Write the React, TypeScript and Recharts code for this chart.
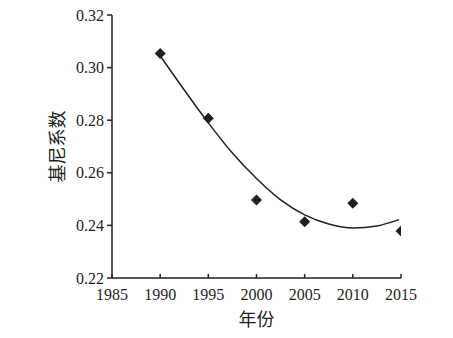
import { ComposedChart, Scatter, Line, XAxis, YAxis, Label } from 'recharts'

// observed Gini values
const years = [1990, 1995, 2000, 2005, 2010, 2015]
const gini = [0.3054, 0.2807, 0.2497, 0.2414, 0.2484, 0.2379]

// polynomial trend line
const trendYears = [1990, 1992.5, 1995, 1997.5, 2000, 2002.5, 2005, 2007.5, 2010, 2012.5, 2014.8]
const trendValues = [0.3045, 0.2915, 0.279, 0.2675, 0.2578, 0.2497, 0.244, 0.2405, 0.239, 0.2398, 0.2422]

const xTicks = [1985, 1990, 1995, 2000, 2005, 2010, 2015]
const yTicks = [0.22, 0.24, 0.26, 0.28, 0.3, 0.32]

const points = years.map((year, i) => ({ year, gini: gini[i] }))
const trend = trendYears.map((year, i) => ({ year, trend: trendValues[i] }))

const ink = '#231f20'
const serif = 'Liberation Serif'
const cjk = 'Noto Sans CJK SC'

const Diamond = (props: any) => {
  const { cx, cy } = props
  const r = 5.5
  return (
    <path
      d={`M${cx},${cy - r}L${cx + r},${cy}L${cx},${cy + r}L${cx - r},${cy}Z`}
      fill={ink}
    />
  )
}

const XTick = (props: any) => {
  const { x, y, payload } = props
  return (
    <text x={x} y={y} dy={11} textAnchor="middle" fill={ink} fontFamily={serif} fontSize={16}>
      {payload.value}
    </text>
  )
}

const YTick = (props: any) => {
  const { x, y, payload } = props
  return (
    <text x={x} y={y} dy={5.5} textAnchor="end" fill={ink} fontFamily={serif} fontSize={16}>
      {Number(payload.value).toFixed(2)}
    </text>
  )
}

export default function App() {
  return (
    <div style={{ position: 'absolute', left: 0, top: 0, background: 'white' }}>
      <ComposedChart width={453} height={338} margin={{ top: 15, right: 52, bottom: 0, left: 0 }}>
        <XAxis
          type="number"
          dataKey="year"
          domain={[1985, 2015]}
          ticks={xTicks}
          interval={0}
          allowDataOverflow
          height={60}
          stroke={ink}
          strokeWidth={1.5}
          tickSize={-4}
          tickMargin={15}
          tick={XTick}
        >
          <Label
            value="年份"
            position="insideBottom"
            offset={12}
            style={{ fill: ink, fontSize: 18, fontFamily: cjk }}
          />
        </XAxis>
        <YAxis
          type="number"
          domain={[0.22, 0.32]}
          ticks={yTicks}
          interval={0}
          allowDataOverflow
          width={112}
          stroke={ink}
          strokeWidth={1.5}
          tickSize={5}
          tickMargin={3}
          tick={YTick}
        >
          <Label
            value="基尼系数"
            angle={-90}
            position="insideLeft"
            offset={58}
            style={{ fill: ink, fontSize: 18, fontFamily: cjk, textAnchor: 'middle' }}
          />
        </YAxis>
        <Line
          data={trend}
          dataKey="trend"
          type="monotone"
          stroke={ink}
          strokeWidth={1.5}
          dot={false}
          activeDot={false}
          isAnimationActive={false}
        />
        <Scatter
          data={points}
          dataKey="gini"
          shape={Diamond}
          isAnimationActive={false}
        />
      </ComposedChart>
    </div>
  )
}
